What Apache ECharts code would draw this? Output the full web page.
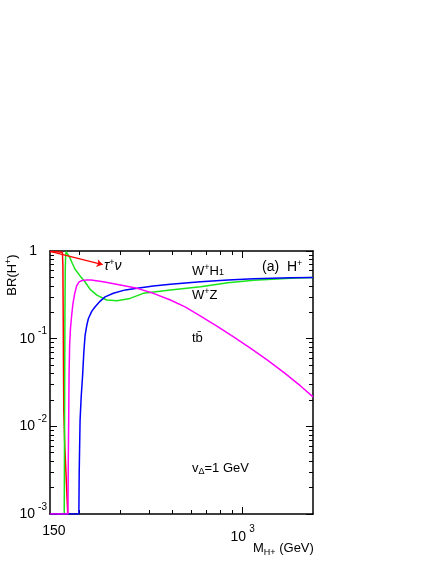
<!DOCTYPE html>
<html>
<head>
<meta charset="utf-8">
<script src="https://cdn.jsdelivr.net/npm/echarts@6/dist/echarts.min.js"></script>
<style>
  html, body { margin: 0; padding: 0; background: #fff; }
  #main { width: 436px; height: 564px; }
</style>
</head>
<body>
<div id="main"></div>
<script>
// H+ decay branching ratios, v_Delta = 1 GeV
var tauMass = [150, 160, 169.5, 170.3, 170.8, 171.3, 171.8, 173.5, 175.5, 177.5, 178.7];
var tauBR   = [0.985, 0.983, 0.97, 0.7, 0.2, 0.05, 0.015, 0.006, 0.003, 0.0015, 0.001];

var wzMass = [172.6, 173.0, 173.4, 173.8, 174.3, 175.0, 175.8, 178, 182.8, 187, 192, 201.7, 212, 222.7, 238, 262, 290, 330, 376, 491, 661, 866, 1115, 1608, 2000];
var wzBR   = [0.001, 0.006, 0.04, 0.2, 0.6, 0.9, 0.985, 0.93, 0.83, 0.72, 0.62, 0.52, 0.443, 0.365, 0.314, 0.276, 0.271, 0.288, 0.329, 0.359, 0.39, 0.435, 0.465, 0.49, 0.497];

var whMass = [150, 199.3, 200, 201.7, 204, 206.8, 209.3, 212, 215.6, 219, 226.5, 234, 246, 258, 280, 315, 354, 415, 491, 661, 866, 1115, 1608, 2000];
var whBR   = [0.001, 0.001, 0.003, 0.0117, 0.022, 0.038, 0.07, 0.11, 0.143, 0.17, 0.206, 0.231, 0.2685, 0.30, 0.33, 0.36, 0.375, 0.40, 0.417, 0.446, 0.468, 0.483, 0.495, 0.50];

var tbMass = [150, 179, 179.6, 180.3, 181, 182, 183.5, 185.5, 188, 191, 195, 199.8, 205.8, 215, 225, 253, 300, 354, 415, 491, 570, 661, 779, 918, 1083, 1277, 1504, 1774, 2000];
var tbBR   = [0.001, 0.001, 0.004, 0.012, 0.04, 0.085, 0.13, 0.18, 0.25, 0.32, 0.40, 0.445, 0.46, 0.466, 0.466, 0.446, 0.409, 0.375, 0.329, 0.276, 0.229, 0.181, 0.138, 0.104, 0.0775, 0.057, 0.041, 0.0287, 0.0217];

var xLabelValues = [150, 1000];
var xMajorTicks = [1000];
var xMinorTicks = [200, 300, 400, 500, 600, 700, 800, 900];
var yMajorTicks = [0.001, 0.01, 0.1, 1];
var yMinorTicks = [];
[0.001, 0.01, 0.1].forEach(function (d) {
    for (var k = 2; k <= 9; k++) yMinorTicks.push(+(d * k).toPrecision(3));
});

function zip(a, b) {
    return a.map(function (v, i) { return [v, b[i]]; });
}

var myChart = echarts.init(document.getElementById('main'));
var font = 'Liberation Sans, Arial, sans-serif';

// rich styles for the tick labels (superscript exponents)
var xRich = {
    p: { fontSize: 14, fontFamily: font, color: '#000', lineHeight: 14, verticalAlign: 'top' },
    b: { fontSize: 14, fontFamily: font, color: '#000', lineHeight: 14, verticalAlign: 'top', padding: [6, 0, 0, 0] },
    s: { fontSize: 10, fontFamily: font, color: '#000', lineHeight: 10, verticalAlign: 'top', padding: [0, 0, 0, 3] }
};
// line box 24 high: "10" sits on the tick, exponent 7px above it
var yRich = {
    one: { fontSize: 14, fontFamily: font, color: '#000', lineHeight: 14, padding: [0, 10, 0, 0] },
    b: { fontSize: 14, fontFamily: font, color: '#000', lineHeight: 14, verticalAlign: 'top', padding: [5, 0, 0, 0] },
    s: { fontSize: 10, fontFamily: font, color: '#000', lineHeight: 24, verticalAlign: 'top', padding: [0, 0, 0, 3] }
};

function xAxisDef(pos, ticks, len, withLine, withLabel) {
    return {
        type: 'log', logBase: 10, min: 150, max: 2000, position: pos,
        axisLine: { show: withLine, lineStyle: { color: '#000', width: 1.5 } },
        axisTick: { show: true, inside: true, length: len, customValues: ticks, lineStyle: { color: '#000', width: 1 } },
        axisLabel: withLabel ? {
            show: true, customValues: xLabelValues, margin: 10, rich: xRich,
            formatter: function (v) {
                return Math.abs(v - 150) < 1 ? '{p|  150}' : '{b|10}{s|3}';
            }
        } : { show: false },
        splitLine: { show: false }
    };
}

function yAxisDef(pos, ticks, len, withLine, withLabel) {
    return {
        type: 'log', logBase: 10, min: 0.001, max: 1, position: pos,
        axisLine: { show: withLine, lineStyle: { color: '#000', width: 1.5 } },
        axisTick: { show: true, inside: true, length: len, customValues: ticks, lineStyle: { color: '#000', width: 1 } },
        axisLabel: withLabel ? {
            show: true, customValues: yMajorTicks, margin: 3, rich: yRich,
            formatter: function (v) {
                var e = Math.round(Math.log10(v));
                return e === 0 ? '{one|1}' : '{b|10}{s|' + e + '}';
            }
        } : { show: false },
        splitLine: { show: false }
    };
}

function line(name, data, color, z) {
    return {
        name: name, type: 'line', data: data, showSymbol: false, smooth: false, z: z,
        lineStyle: { color: color, width: 1.5 }, itemStyle: { color: color }
    };
}

var redSeries = line('tau nu', zip(tauMass, tauBR), '#ff0000', 3);
redSeries.markLine = {
    silent: true, symbol: ['none', 'arrow'], symbolSize: 6,
    label: { show: false },
    lineStyle: { color: '#ff0000', width: 1.2, type: 'solid' },
    data: [[{ coord: [150, 0.99] }, { coord: [252, 0.70] }]]
};

// annotation text: line box 16 high, every token top-aligned, padding sets offsets
var annRich = {
    b: { fontSize: 13, fontFamily: font, fill: '#000', lineHeight: 13, verticalAlign: 'top', padding: [1.5, 0, 0, 0] },
    i: { fontSize: 14, fontFamily: font, fill: '#000', lineHeight: 14, verticalAlign: 'top', padding: [1, 0, 0, 0], fontStyle: 'italic' },
    big: { fontSize: 14, fontFamily: font, fill: '#000', lineHeight: 14, verticalAlign: 'top', padding: [1, 0, 0, 0] },
    sp: { fontSize: 9, fontFamily: font, fill: '#000', lineHeight: 16, verticalAlign: 'top' },
    sb: { fontSize: 9, fontFamily: font, fill: '#000', lineHeight: 16, verticalAlign: 'top', padding: [5.5, 0, 0, 0] },
    sbd: { fontSize: 9, fontFamily: font, fill: '#000', lineHeight: 16, verticalAlign: 'top', padding: [7, 0, 0, 0] },
    sbl: { fontSize: 9, fontFamily: font, fill: '#000', lineHeight: 16, verticalAlign: 'top', padding: [8.5, 0, 0, 0] }
};
function label(x, y, text, extra) {
    var st = Object.assign({ fontFamily: font, fill: '#000', fontSize: 13, text: text, rich: annRich, verticalAlign: 'middle' }, extra || {});
    return { type: 'text', x: x, y: y, style: st, z: 10 };
}

var option = {
    animation: false,
    backgroundColor: '#fff',
    grid: { left: 50, top: 251, right: 123, bottom: 50, containLabel: false },
    xAxis: [
        xAxisDef('bottom', xMajorTicks, 7, true, true),
        xAxisDef('bottom', xMinorTicks, 4, false, false),
        xAxisDef('top', xMajorTicks, 7, true, false),
        xAxisDef('top', xMinorTicks, 4, false, false)
    ],
    yAxis: [
        yAxisDef('left', yMajorTicks, 7, true, true),
        yAxisDef('left', yMinorTicks, 4, false, false),
        yAxisDef('right', yMajorTicks, 7, true, false),
        yAxisDef('right', yMinorTicks, 4, false, false)
    ],
    series: [
        redSeries,
        line('W+Z', zip(wzMass, wzBR), '#19e619', 3),
        line('W+H1', zip(whMass, whBR), '#0000ff', 4),
        line('tb', zip(tbMass, tbBR), '#ff00ff', 5)
    ],
    graphic: [
        label(104, 266, '{i|τ}{sp|+}{i|ν}'),
        label(192, 271, '{b|W}{sp|+}{b|H}{sb|1}'),
        label(262, 267, '{big|(a)  H}{sp|+}'),
        label(192, 295, '{b|W}{sp|+}{b|Z}'),
        label(192, 338, 'tb\u0304'),
        label(192, 468, '{b|v}{sbd|Δ}{b|=1 GeV}'),
        label(253, 548, '{b|M}{sbl|H+}{b| (GeV)}'),
        {
            type: 'text', x: 12, y: 275, rotation: Math.PI / 2, z: 10,
            style: {
                fontFamily: font, fill: '#000', fontSize: 13,
                text: '{b|BR(H}{sp|+}{b|)}', rich: annRich, align: 'center', verticalAlign: 'middle'
            }
        }
    ]
};
myChart.setOption(option);
</script>
</body>
</html>
